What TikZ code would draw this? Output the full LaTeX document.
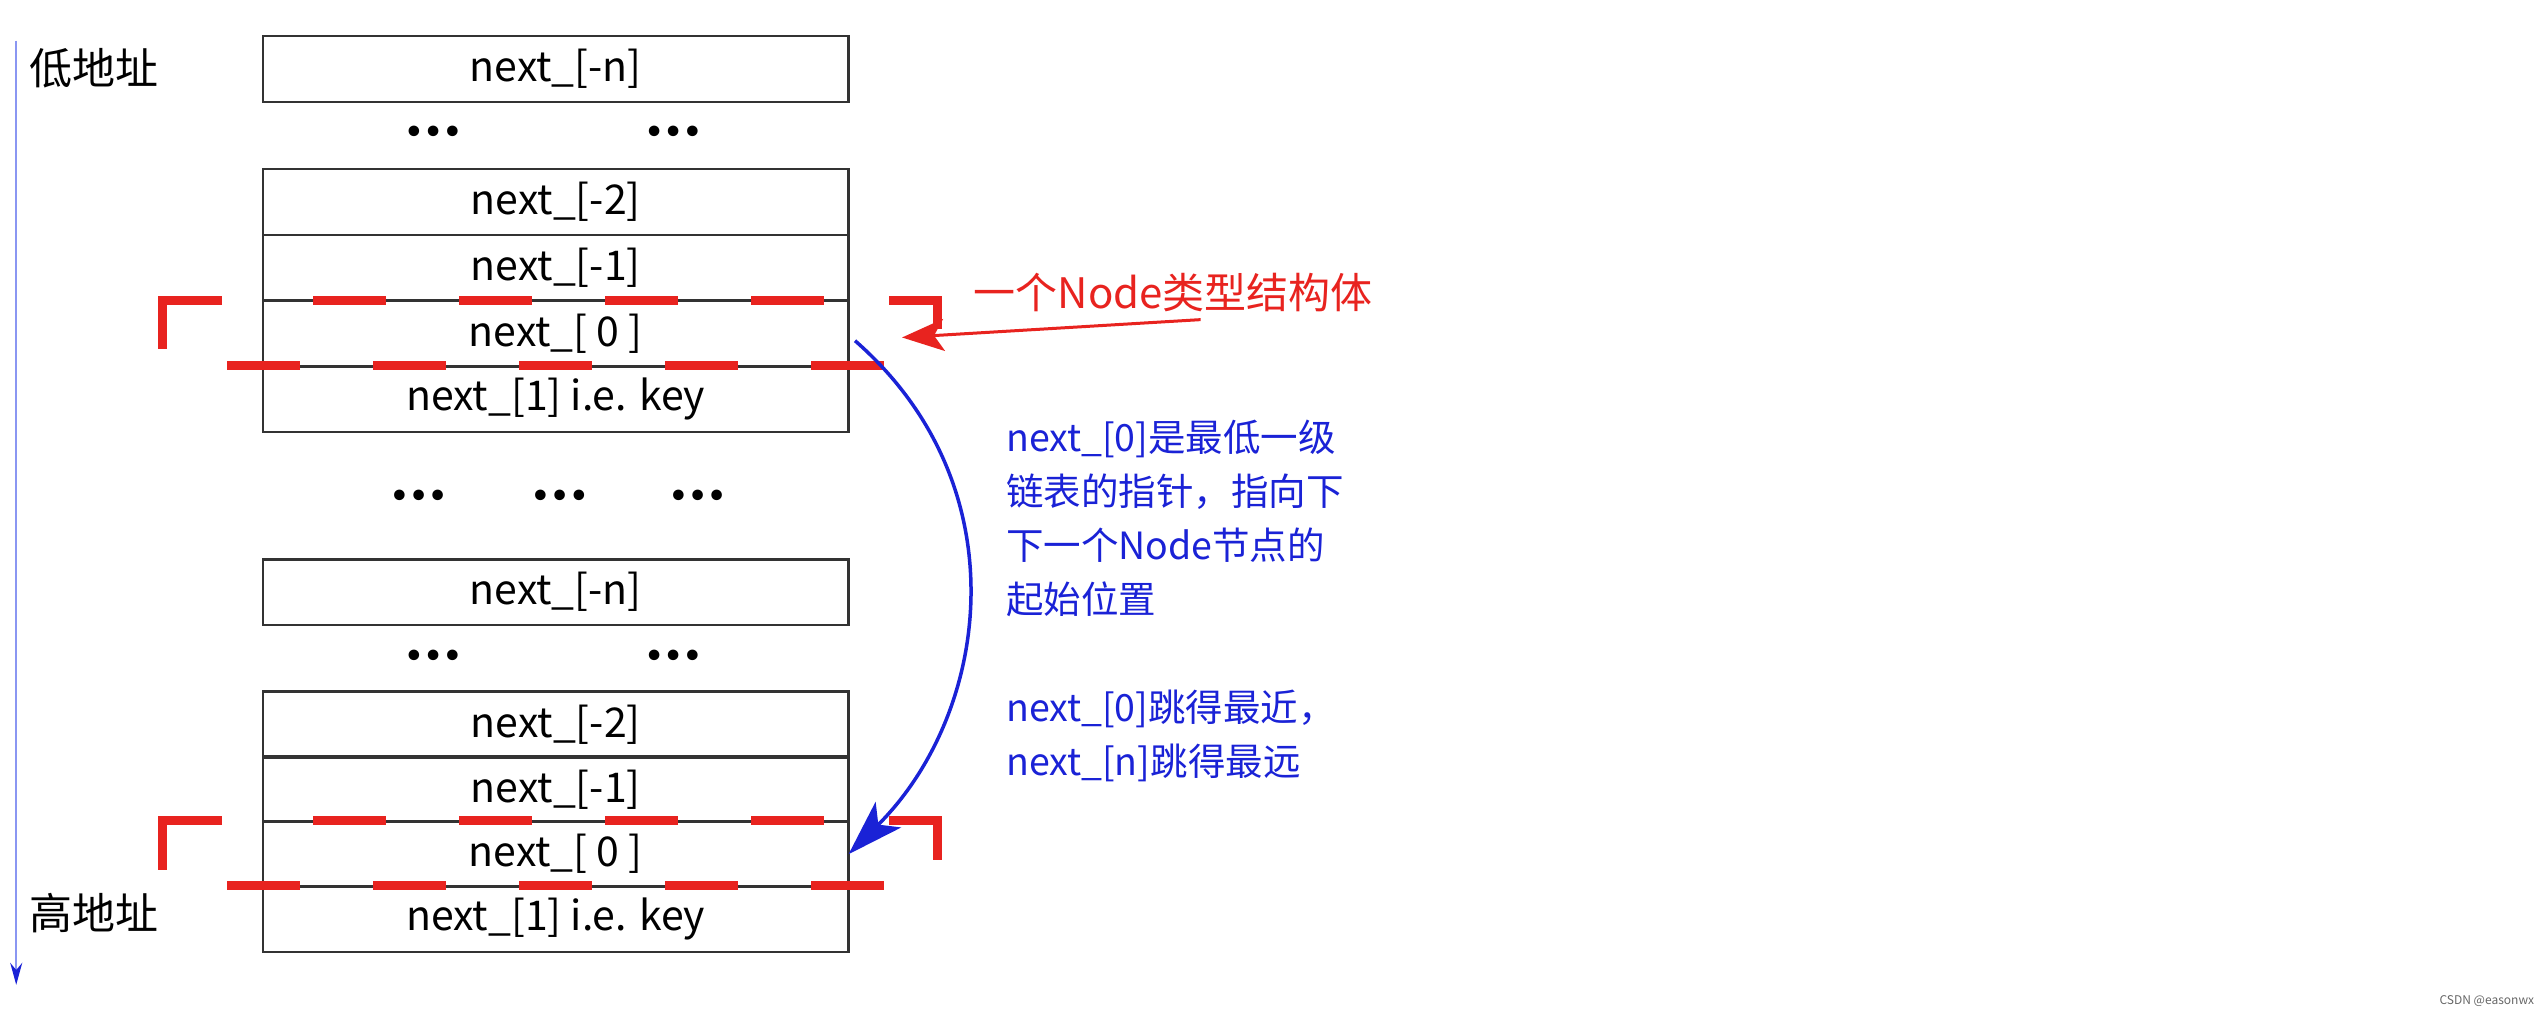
\documentclass[tikz,border=0pt]{standalone}
\usepackage{fontspec}
\setmainfont{Noto Sans CJK SC}
\newfontfamily\dotfont{DejaVu Sans}
\usetikzlibrary{arrows.meta}
\definecolor{rd}{HTML}{E8231F}
\definecolor{bl}{HTML}{1A22D6}
\definecolor{lb}{HTML}{8A96F2}
\begin{document}
\begin{tikzpicture}[x=1.6224pt,y=-1.6224pt,
  row/.style={draw=black!80,line width=2.6pt,minimum width=585.7pt,minimum height=65.7pt,inner sep=0pt,outer sep=0pt,font=\fontsize{41}{44}\selectfont},
  dots/.style={font=\dotfont\fontsize{30}{32}\selectfont\bfseries,inner sep=0pt},
  lbl/.style={font=\fontsize{43}{48}\selectfont,inner sep=0pt,anchor=west},
  rdash/.style={rd,line width=9pt,dash pattern=on 73pt off 73pt},
  rsol/.style={rd,line width=9pt},
  btxt/.style={bl,font=\fontsize{37.5}{54}\selectfont,align=left,anchor=north west,inner sep=0pt}]
\useasboundingbox (0,0) rectangle (1568,626.2);
% address arrow
\coordinate (at) at (10,25); \coordinate (ab) at (10,607);
\draw[lb,line width=2pt,-{Stealth[length=22pt,width=12pt,bl]}] (at) -- (ab);
\node[lbl] (lo) at (18,42) {低地址};
\node[lbl] (hi) at (18,563) {高地址};
% first structure
\node[row] (a0) at (342.5,42.5) {next\_[-n]};
\node[dots] (ad1) at (267,83) {•••};
\node[dots] (ad2) at (415,83) {•••};
\node[row] (a1) at (342.5,124.5) {next\_[-2]};
\node[row] (a2) at (342.5,165) {next\_[-1]};
\node[row] (a3) at (342.5,205.5) {next\_[ 0 ]};
\node[row] (a4) at (342.5,246) {next\_[1] i.e. key};
\node[dots] (md1) at (258,307) {•••};
\node[dots] (md2) at (345,307) {•••};
\node[dots] (md3) at (430,307) {•••};
% second structure
\node[row] (b0) at (342.5,365) {next\_[-n]};
\node[dots] (bd1) at (267,406) {•••};
\node[dots] (bd2) at (415,406) {•••};
\node[row] (b1) at (342.5,446.5) {next\_[-2]};
\node[row] (b2) at (342.5,486.5) {next\_[-1]};
\node[row] (b3) at (342.5,526.5) {next\_[ 0 ]};
\node[row] (b4) at (342.5,566.5) {next\_[1] i.e. key};
% red brackets
\foreach \y/\rv in {185/203, 506/530}{
  \draw[rsol] (100,\y+30) -- (100,\y) -- (137,\y);
  \draw[rsol] (548,\y) -- (578,\y) -- (578,\rv);
  \draw[rdash] (193,\y) -- (512,\y);
  \draw[rdash] (140,\y+40) -- (548,\y+40);
}
% red label
\node[lbl,rd,font=\fontsize{42}{46}\selectfont] (rl) at (600,180) {一个Node类型结构体};
\coordinate (rs) at (740,197);
\draw[rd,line width=3pt,-{Stealth[length=42pt,width=32pt,inset=10pt]}] (rs) -- (556,208);
% blue curve
\coordinate (cs) at (527,210);
\draw[bl,line width=3.5pt,-{Stealth[length=56pt,width=36pt,inset=14pt]}] (cs) .. controls (630,300) and (610,440) .. (b3.east);
% blue text
\node[btxt] (bt) at (620,259) {next\_[0]是最低一级\\链表的指针，指向下\\下一个Node节点的\\起始位置\\[54pt]next\_[0]跳得最近，\\next\_[n]跳得最远};
\node[font=\fontsize{12}{14}\selectfont,text=black!60,anchor=east,inner sep=0pt] (wm) at (1562,617) {CSDN @easonwx};
\end{tikzpicture}
\end{document}
